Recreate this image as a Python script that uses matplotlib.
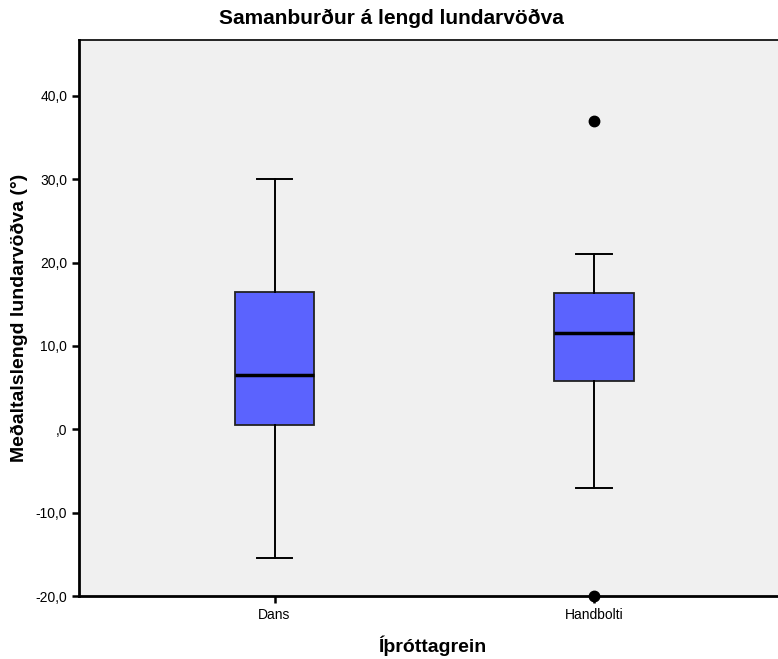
import matplotlib.pyplot as plt
import matplotlib.ticker as mticker

# data (boxplot summary per group)
categories = ["Dans", "Handbolti"]
q1 = [0.5, 5.8]
medians = [6.5, 11.5]
q3 = [16.5, 16.3]
whisker_low = [-15.5, -7.0]
whisker_high = [30.0, 21.0]
outliers = [[], [37.0, -20.0]]

y_ticks = [-20, -10, 0, 10, 20, 30, 40]
y_tick_labels = ["-20,0", "-10,0", ",0", "10,0", "20,0", "30,0", "40,0"]

plt.rcParams['font.family'] = ['Liberation Sans Narrow', 'Liberation Sans', 'DejaVu Sans']

stats = []
for i, name in enumerate(categories):
    stats.append({
        "label": name,
        "q1": q1[i], "med": medians[i], "q3": q3[i],
        "whislo": whisker_low[i], "whishi": whisker_high[i],
        "fliers": outliers[i],
    })

fig = plt.figure(figsize=(7.78, 6.59), dpi=100)
ax = fig.add_axes([79 / 778, 1 - 596 / 659, 1 - 79 / 778 + 0.01, (596 - 40) / 659])
ax.set_facecolor("#f0f0f0")

positions = [1, 2]
ax.bxp(stats, positions=positions, widths=0.25, capwidths=0.112,
       patch_artist=True, showfliers=True,
       boxprops=dict(facecolor="#5b63fe", edgecolor="#222222", linewidth=1.3),
       medianprops=dict(color="black", linewidth=2.5),
       whiskerprops=dict(color="black", linewidth=1.4),
       capprops=dict(color="black", linewidth=1.4),
       flierprops=dict(marker="o", markerfacecolor="black", markeredgecolor="black",
                       markersize=7.5, clip_on=False))

ax.set_xlim(0.388, 2.6)
ax.set_ylim(-20, 46.7)
ax.set_yticks(y_ticks)
ax.yaxis.set_major_formatter(mticker.FixedFormatter(y_tick_labels))
ax.set_xticks(positions)
ax.set_xticklabels(categories)

ax.tick_params(axis="both", labelsize=10, width=1.8, length=5, color="black")
for side in ["left", "bottom"]:
    ax.spines[side].set_linewidth(2)
ax.spines["top"].set_linewidth(1.2)
ax.spines["right"].set_visible(False)

ax.set_ylabel("Meðaltalslengd lundarvöðva (°)", fontsize=14, fontweight="bold", labelpad=5)
ax.set_xlabel("Íþróttagrein", fontsize=14, fontweight="bold", labelpad=10)
fig.text(391 / 778, 1 - 18 / 659, "Samanburður á lengd lundarvöðva",
         fontsize=15, fontweight="bold", ha="center", va="center")

fig.savefig("out.png", dpi=100)
